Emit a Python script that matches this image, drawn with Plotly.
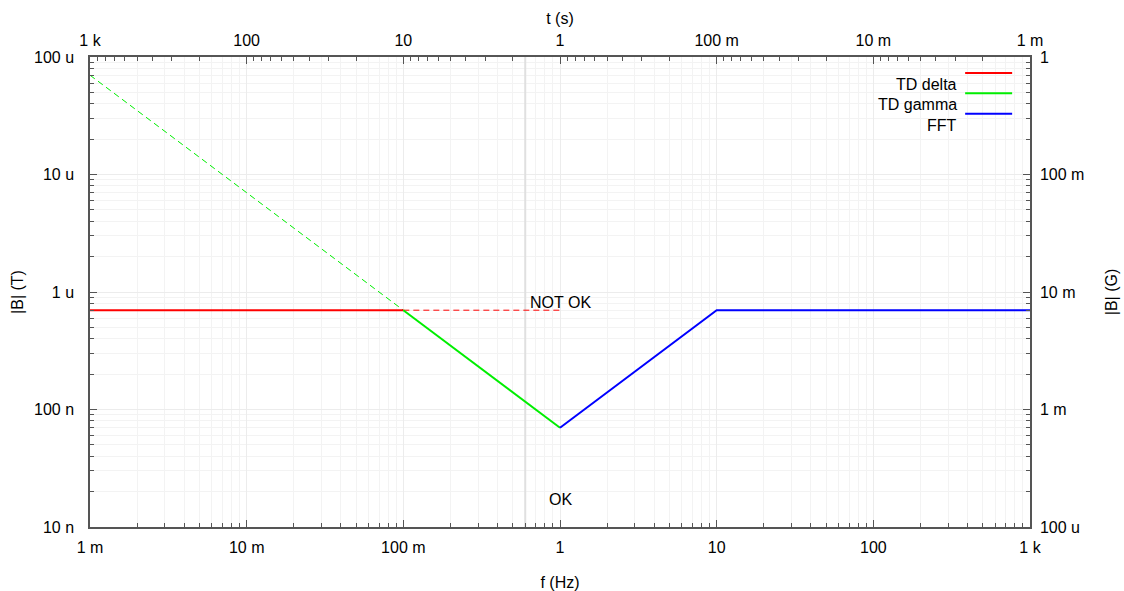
import math
import plotly.graph_objects as go

# ---- data ----
f_delta_solid = [1e-3, 0.1]
b_delta_solid = [0.7e-6, 0.7e-6]
f_delta_dash = [0.1, 1.0]
b_delta_dash = [0.7e-6, 0.7e-6]
f_gamma_dash = [1e-3, 0.1]
b_gamma_dash = [70e-6, 0.7e-6]
f_gamma_solid = [0.1, 1.0]
b_gamma_solid = [0.7e-6, 70e-9]
f_fft = [1.0, 10.0, 1000.0]
b_fft = [70e-9, 0.7e-6, 0.7e-6]
vline_f = [0.6]

x_tickvals = [1e-3, 1e-2, 1e-1, 1, 10, 100, 1000]
x_ticktext = ["1 m", "10 m", "100 m", "1", "10", "100", "1 k"]
t_tickvals = [1000, 100, 10, 1, 0.1, 0.01, 0.001]
t_ticktext = ["1 k", "100", "10", "1", "100 m", "10 m", "1 m"]
yl_tickvals = [1e-8, 1e-7, 1e-6, 1e-5, 1e-4]
yl_ticktext = ["10 n", "100 n", "1 u", "10 u", "100 u"]
yr_tickvals = [1e-4, 1e-3, 1e-2, 1e-1, 1]
yr_ticktext = ["100 u", "1 m", "10 m", "100 m", "1"]

labels = [("NOT OK", 1.0, 0.82e-6), ("OK", 1.0, 17e-9)]
legend_items = [("TD delta", "#ff0000"), ("TD gamma", "#00ee00"), ("FFT", "#0000ff")]

RED, GREEN, BLUE = "#ff0000", "#00ee00", "#0000ff"
FONT = "Liberation Sans, Arial, sans-serif"
FS = 16
AXC = "#555555"
GRID = "#ececec"


def minors(lo, hi):
    out = []
    for e in range(lo, hi):
        for m in range(2, 10):
            out.append(m * 10 ** e)
    return out


fig = go.Figure()

fig.add_trace(go.Scatter(x=vline_f * 2, y=[1e-8, 1e-4], mode="lines",
                         line=dict(color="#e0e0e0", width=2), showlegend=False, hoverinfo="skip"))

fig.add_trace(go.Scatter(x=f_gamma_dash, y=b_gamma_dash, mode="lines",
                         line=dict(color=GREEN, width=1, dash="6px,4px"), showlegend=False))
fig.add_trace(go.Scatter(x=f_delta_dash, y=b_delta_dash, mode="lines",
                         line=dict(color=RED, width=1, dash="6px,4px"), showlegend=False))
fig.add_trace(go.Scatter(x=f_delta_solid, y=b_delta_solid, mode="lines",
                         line=dict(color=RED, width=2), name="TD delta", showlegend=False))
fig.add_trace(go.Scatter(x=f_gamma_solid, y=b_gamma_solid, mode="lines",
                         line=dict(color=GREEN, width=2), name="TD gamma", showlegend=False))
fig.add_trace(go.Scatter(x=f_fft, y=b_fft, mode="lines",
                         line=dict(color=BLUE, width=2), name="FFT", showlegend=False))

# dummy traces to activate secondary axes
fig.add_trace(go.Scatter(x=[1], y=[None], xaxis="x2", yaxis="y", showlegend=False, hoverinfo="skip"))
fig.add_trace(go.Scatter(x=[None], y=[1e-2], xaxis="x", yaxis="y2", showlegend=False, hoverinfo="skip"))

for txt, fx, by in labels:
    fig.add_annotation(x=math.log10(fx), y=math.log10(by), xref="x", yref="y", text=txt,
                       showarrow=False, font=dict(family=FONT, size=FS, color="black"),
                       xanchor="center", yanchor="middle")

# legend (gnuplot style: text right, sample line to the right)
leg_y_line = [0.966, 0.923, 0.879]
leg_y_text = [0.942, 0.898, 0.855]
for (name, col), yl, yt in zip(legend_items, leg_y_line, leg_y_text):
    fig.add_annotation(x=0.924, y=yt, xref="paper", yref="paper", text=name, showarrow=False,
                       xanchor="right", yanchor="middle", font=dict(family=FONT, size=FS, color="black"))
    fig.add_shape(type="line", xref="paper", yref="paper", x0=0.931, x1=0.981, y0=yl, y1=yl,
                  line=dict(color=col, width=2))

common = dict(type="log", showline=True, linecolor=AXC, linewidth=1.5, ticks="inside",
              ticklen=7, tickcolor=AXC, tickwidth=1, showgrid=True, gridcolor=GRID, gridwidth=1,
              zeroline=False, tickfont=dict(family=FONT, size=FS, color="black"),
              tickmode="array", automargin=False)
tfont = dict(family=FONT, size=FS, color="black")

fig.update_layout(
    width=1124, height=591,
    margin=dict(l=90, r=94, t=57, b=64),
    paper_bgcolor="white", plot_bgcolor="white",
    showlegend=False,
    xaxis=dict(**common, range=[-3, 3], tickvals=x_tickvals, ticktext=x_ticktext,
               ticklabelstandoff=5,
               minor=dict(tickmode="array", tickvals=minors(-3, 3), ticks="inside", ticklen=4,
                          tickcolor=AXC, showgrid=True, gridcolor="#f3f3f3"),
               title=dict(text="f (Hz)", font=tfont, standoff=26)),
    xaxis2=dict(**common, range=[3, -3], overlaying="x", side="top", tickvals=t_tickvals,
                ticktext=t_ticktext, ticklabelstandoff=3,
                minor=dict(tickmode="array", tickvals=minors(-3, 3), ticks="inside", ticklen=4,
                           tickcolor=AXC, showgrid=False),
                title=dict(text="t (s)", font=tfont, standoff=3)),
    yaxis=dict(**common, range=[-8, -4], tickvals=yl_tickvals, ticktext=yl_ticktext,
               ticklabelstandoff=11,
               minor=dict(tickmode="array", tickvals=minors(-8, -4), ticks="inside", ticklen=4,
                          tickcolor=AXC, showgrid=True, gridcolor="#f3f3f3"),
               title=dict(text="|B| (T)", font=tfont, standoff=6)),
    yaxis2=dict(**common, range=[-4, 0], overlaying="y", side="right", tickvals=yr_tickvals,
                ticktext=yr_ticktext, ticklabelstandoff=5,
                minor=dict(tickmode="array", tickvals=minors(-4, 0), ticks="inside", ticklen=4,
                           tickcolor=AXC, showgrid=False),
                title=dict(text="|B| (G)", font=tfont, standoff=22)),
)
fig.update_layout(xaxis2_showgrid=False, yaxis2_showgrid=False)

fig.write_html("out.html", config={"displayModeBar": False})

# remove default body margin so the figure fills the window exactly
with open("out.html", "r", encoding="utf-8") as fh:
    html = fh.read()
html = html.replace("<head>", "<head><style>html,body{margin:0;padding:0;overflow:hidden;}</style>", 1)
with open("out.html", "w", encoding="utf-8") as fh:
    fh.write(html)
